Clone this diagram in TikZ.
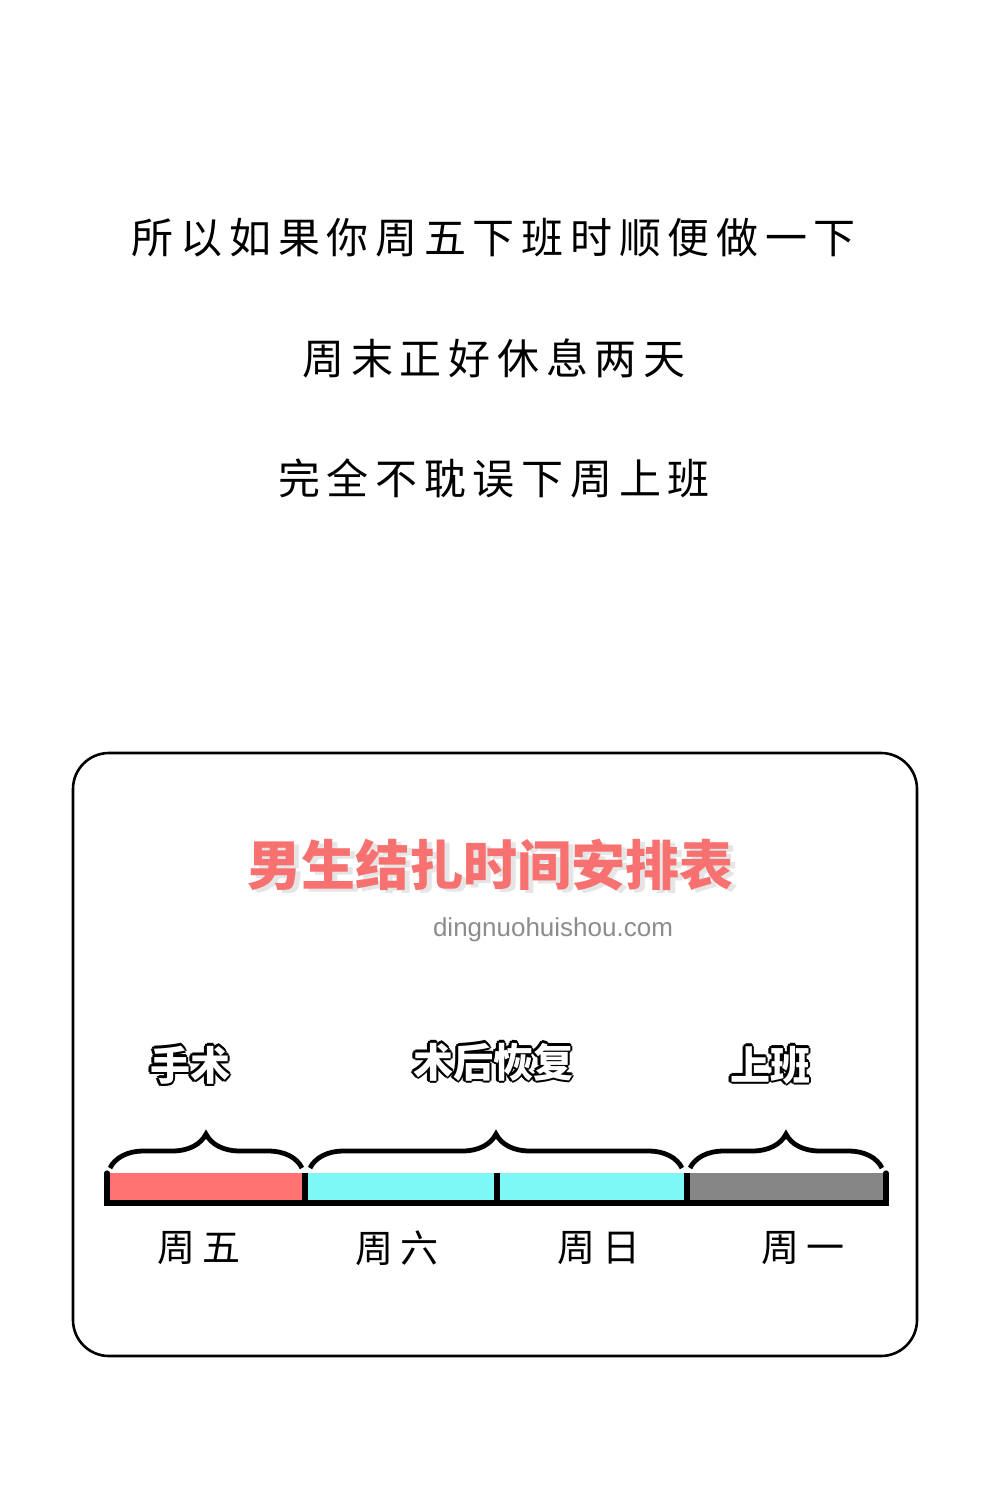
\documentclass[tikz,border=0pt]{standalone}
\usepackage{fontspec}
\usetikzlibrary{decorations.pathreplacing}
\newfontfamily\cjk{Noto Sans CJK SC}
\newfontfamily\cjksp{Noto Sans CJK SC}[LetterSpace=16]
\setsansfont{Liberation Sans}
\definecolor{tred}{HTML}{F87171}
\definecolor{barred}{HTML}{FF7373}
\definecolor{barcyan}{HTML}{7DF8F6}
\definecolor{bargray}{HTML}{868686}
\newcommand{\outl}[1]{\foreach \dx/\dy in {-1.2/0,1.2/0,0/1.2,0/-1.2,-0.9/-0.9,0.9/0.9,-0.9/0.9,0.9/-0.9}{\node[font=\cjk\bfseries\fontsize{20}{24}\selectfont,text=black] at ($(P)+(\dx pt,\dy pt)$) {#1};}\node[font=\cjk\bfseries\fontsize{20}{24}\selectfont,text=white] at (P) {#1};}
\usetikzlibrary{calc}
\begin{document}
\begin{tikzpicture}[x=0.5pt,y=-0.5pt,
  line1/.style={font=\cjksp\fontsize{21}{25}\selectfont,inner sep=0},
  day/.style={font=\cjksp\fontsize{19}{23}\selectfont,inner sep=0},
  brc/.style={decorate,decoration={brace,amplitude=17pt},line width=2.4pt}]
\useasboundingbox (0,0) rectangle (1000,1499);
\node[line1] (t1) at (494,238) {所以如果你周五下班时顺便做一下};
\node[line1] (t2) at (494,358) {周末正好休息两天};
\node[line1] (t3) at (494,478) {完全不耽误下周上班};
\draw[line width=1.3pt,rounded corners=18pt] (73,753) rectangle (917,1356);
\node[font=\cjk\bfseries\fontsize{27}{32}\selectfont,text=black!10,inner sep=0] at (495,868) {男生结扎时间安排表};
\node[font=\cjk\bfseries\fontsize{27}{32}\selectfont,text=tred,inner sep=0] (title) at (490,865) {男生结扎时间安排表};
\node[font=\sffamily\fontsize{13}{15}\selectfont,text=black!45,inner sep=0] (url) at (553,930) {dingnuohuishou.com};
\fill[barred] (107,1173) rectangle (305,1202);
\fill[barcyan] (305,1173) rectangle (687,1202);
\fill[bargray] (687,1173) rectangle (885,1202);
\draw[line width=2.6pt,line cap=round] (107,1173) -- (107,1203) -- (886,1203) -- (886,1173);
\draw[line width=2.6pt] (305,1173) -- (305,1203) (497,1173) -- (497,1203) (687,1173) -- (687,1203);
\draw[brc] (110,1168) -- (302,1168);
\draw[brc] (310,1168) -- (682,1168);
\draw[brc] (690,1168) -- (882,1168);
\coordinate (P) at (190,1065); \outl{手术}
\coordinate (P) at (493,1062); \outl{术后恢复}
\coordinate (P) at (770,1065); \outl{上班}
\node[day] (d1) at (199,1248) {周五};
\node[day] (d2) at (397,1248) {周六};
\node[day] (d3) at (599,1248) {周日};
\node[day] (d4) at (803,1248) {周一};
\end{tikzpicture}
\end{document}
